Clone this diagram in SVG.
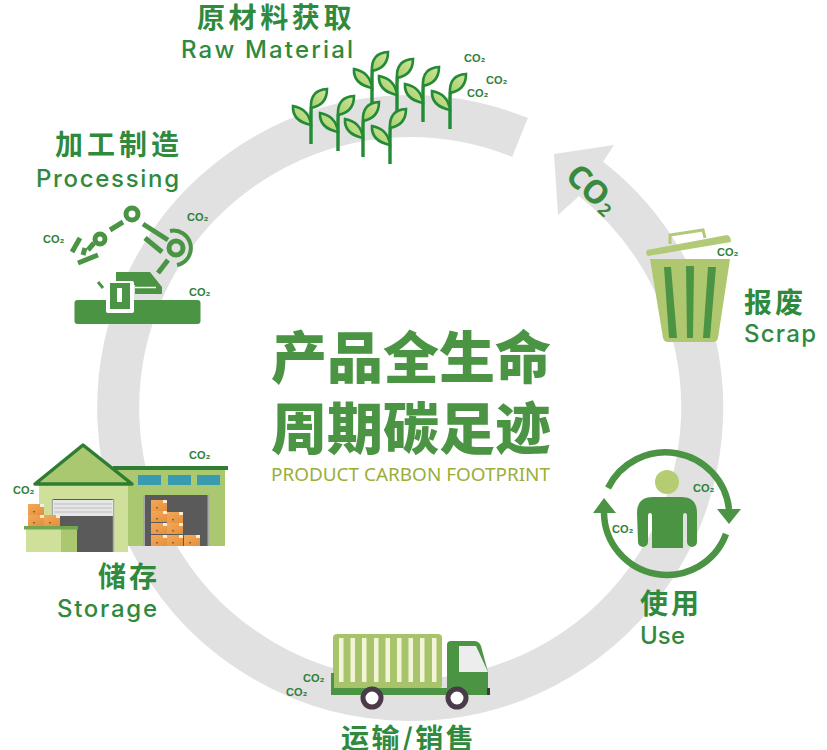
<svg xmlns="http://www.w3.org/2000/svg" xmlns:xlink="http://www.w3.org/1999/xlink" width="827" height="750" viewBox="0 0 827 750">
<style>
.cn{font-family:"Noto Sans CJK SC","Noto Sans",sans-serif;font-weight:700;font-size:28px;fill:#2f8a3e;letter-spacing:3px}
.en{font-family:Inter,"Liberation Sans",sans-serif;font-weight:500;font-size:24px;fill:#2f8a3e;letter-spacing:1px}
.big{font-family:"Noto Sans CJK SC",sans-serif;font-weight:900;font-size:56px;fill:#4a9444}
.co{font-family:"Liberation Sans","Noto Sans CJK SC",sans-serif;font-weight:700;font-size:11px;fill:#2f7f3a}
.g{fill:#4a9444}
.ln{stroke:#4a9444;fill:none;stroke-width:5}
</style>
<defs>
<linearGradient id="leaf" x1="0" y1="1" x2="1" y2="0"><stop offset="0" stop-color="#a4cf6c"/><stop offset="1" stop-color="#d3e39c"/></linearGradient>
<linearGradient id="box" x1="0" y1="0" x2="1" y2="1"><stop offset="0" stop-color="#f2a95a"/><stop offset="1" stop-color="#e58f3c"/></linearGradient>
<g id="sprout">
<path d="M0 0V-31Q0 -36 1 -40" fill="none" stroke="#238a35" stroke-width="3.4"/>
<path d="M0 -36Q-1 -54 16 -55Q16 -39 0 -36Z" fill="url(#leaf)" stroke="#238a35" stroke-width="2.6"/>
<path d="M0 -19Q-2 -35 -18 -38Q-19 -23 0 -19Z" fill="url(#leaf)" stroke="#238a35" stroke-width="2.6"/>
</g>
<g id="crate">
<rect width="16" height="11" fill="url(#box)"/>
<rect x="12" y="0" width="4" height="3" fill="#fbeed8"/>
<rect x="5" y="7" width="2" height="1.4" fill="#9a5a20"/>
</g>
</defs>
<g id="connectors">
<path d="M520 137.500A292 292 0 1 0 590 178" fill="none" stroke="#e1e1e1" stroke-width="42"/>
<path d="M614 145L554 154L558 215L577 198L603 162Z" fill="#e1e1e1"/>
<text transform="translate(564 178) rotate(43)" style="font-size:32px;font-family:'Noto Sans',sans-serif;font-weight:700;fill:#3a8a3e">CO<tspan dx="1" dy="2" style="font-size:18px">2</tspan></text>
</g>
<g id="center">
<text class="big" x="271" y="378">产品全生命</text>
<text class="big" x="271" y="449">周期碳足迹</text>
<text x="271" y="481" style="font-family:'Noto Sans',sans-serif;font-size:18px;fill:#9aae3a" textLength="279" lengthAdjust="spacingAndGlyphs">PRODUCT CARBON FOOTPRINT</text>
</g>
<g id="raw-material">
<use xlink:href="#sprout" href="#sprout" x="372" y="107"/>
<use xlink:href="#sprout" href="#sprout" x="397" y="114"/>
<use xlink:href="#sprout" href="#sprout" x="423" y="122"/>
<use xlink:href="#sprout" href="#sprout" x="450" y="129"/>
<use xlink:href="#sprout" href="#sprout" x="311" y="144"/>
<use xlink:href="#sprout" href="#sprout" x="338" y="151"/>
<use xlink:href="#sprout" href="#sprout" x="363" y="157"/>
<use xlink:href="#sprout" href="#sprout" x="390" y="164"/>
<text class="co" x="464" y="62">CO₂</text>
<text class="co" x="486" y="84">CO₂</text>
<text class="co" x="467" y="97">CO₂</text>
<text class="cn" x="197" y="28" style="letter-spacing:3.6px">原材料获取</text>
<text class="en" x="181" y="58" textLength="173">Raw Material</text>
</g>
<g id="processing">
<rect class="g" x="74.500" y="300" width="126" height="24" rx="3"/>
<path class="g" d="M116 272H150L162 287V294H135V285H116Z"/>
<path d="M135 287.500H156" stroke="#fff" stroke-width="1.500"/>
<rect x="106" y="281" width="28" height="32" rx="2" fill="#fff"/>
<rect class="g" x="110" y="283" width="20" height="26"/>
<rect x="117" y="288" width="5" height="14" fill="#fff"/>
<path class="ln" d="M98 282L103 288" style="stroke-width:3"/>
<circle cx="132" cy="214" r="6" class="ln"/>
<path class="ln" d="M110 230L123 222"/>
<circle cx="100" cy="239" r="5" class="ln"/>
<path class="ln" d="M143 224L168 240M145 238L162 252M168 260L158 273M80 238L72 252M85 248L83 255M78 263L98 255M94 243L88 250"/>
<circle cx="176" cy="248" r="7" class="ln"/>
<path class="ln" d="M170 231A17 17 0 0 1 177 265" style="stroke-width:4"/>
<text class="co" x="187" y="221">CO₂</text>
<text class="co" x="43" y="243">CO₂</text>
<text class="co" x="189" y="296">CO₂</text>
<text class="cn" x="55" y="155" style="letter-spacing:4px">加工制造</text>
<text class="en" x="36" y="187" textLength="144">Processing</text>
</g>
<g id="storage">
<rect x="115" y="470" width="110" height="76" fill="#a9c86f"/>
<rect x="113" y="466" width="115" height="4" fill="#2e7d32"/>
<rect x="138" y="475" width="23" height="10" fill="#3a9bb0"/>
<rect x="168" y="475" width="23" height="10" fill="#3a9bb0"/>
<rect x="197" y="475" width="23" height="10" fill="#3a9bb0"/>
<rect x="143" y="495" width="66" height="51" fill="#5a5a5a"/>
<path d="M144 495V546M208.500 495V546" stroke="#a8a8a8" stroke-width="2"/>
<use xlink:href="#crate" href="#crate" x="151" y="500"/><use xlink:href="#crate" href="#crate" x="151" y="511"/><use xlink:href="#crate" href="#crate" x="151" y="523"/><use xlink:href="#crate" href="#crate" x="151" y="535"/>
<use xlink:href="#crate" href="#crate" x="167" y="512"/><use xlink:href="#crate" href="#crate" x="167" y="523"/><use xlink:href="#crate" href="#crate" x="167" y="535"/>
<use xlink:href="#crate" href="#crate" x="184" y="535"/>
<rect x="39" y="483" width="89" height="69" fill="#cfe09a"/>
<path d="M35 484L83 445L132 484Z" fill="#a9c86f" stroke="#2e7d32" stroke-width="3.500" stroke-linejoin="round"/>
<rect x="52" y="499" width="62" height="53" fill="#5a5a5a"/>
<path d="M52.500 499V552M113.500 499V552" stroke="#a8a8a8" stroke-width="1.500"/>
<rect x="53" y="500" width="60" height="16" fill="#e6e6e6"/>
<path d="M54 504H112M54 508H112M54 512H112" stroke="#bdbdbd" stroke-width="1"/>
<use xlink:href="#crate" href="#crate" x="28" y="504"/><use xlink:href="#crate" href="#crate" x="28" y="515"/><use xlink:href="#crate" href="#crate" x="44" y="515"/>
<rect x="26" y="527" width="35" height="25" fill="#cfe09a"/>
<rect x="61" y="527" width="16" height="25" fill="#a9c86f"/>
<rect x="24" y="526" width="54" height="3.500" fill="#6fa84f"/>
<text class="co" x="13" y="494">CO₂</text>
<text class="co" x="189" y="459">CO₂</text>
<text class="cn" x="98" y="587">储存</text>
<text class="en" x="57" y="617" textLength="101">Storage</text>
</g>
<g id="transport">
<rect x="333" y="634" width="109" height="55" rx="4" fill="#a7c46a"/>
<g fill="#f3f3d8"><rect x="339" y="638" width="4.500" height="44"/><rect x="350.500" y="638" width="4.500" height="44"/><rect x="362" y="638" width="4.500" height="44"/><rect x="374" y="638" width="4.500" height="44"/><rect x="385.500" y="638" width="4.500" height="44"/><rect x="397" y="638" width="4.500" height="44"/><rect x="408.500" y="638" width="4.500" height="44"/><rect x="420" y="638" width="4.500" height="44"/><rect x="432" y="638" width="4.500" height="44"/></g>
<path class="g" d="M331 673H334V688H447V645Q447 641 451 641H474Q479 641 481 646L488 672V695H331Z"/>
<path d="M459 646H476L488 672H459Z" fill="#ededed"/>
<rect x="487" y="688" width="3" height="7" fill="#3b3b3b"/>
<circle cx="372" cy="698" r="9" fill="#fff" stroke="#4a3a4a" stroke-width="5"/>
<circle cx="457" cy="698" r="9" fill="#fff" stroke="#4a3a4a" stroke-width="5"/>
<text class="co" x="303" y="682">CO₂</text>
<text class="co" x="286" y="696">CO₂</text>
<text class="cn" x="341" y="749" style="letter-spacing:2.500px">运输/销售</text>
</g>
<g id="use">
<path d="M608 488A64 64 0 0 1 729 509" fill="none" stroke="#4a9444" stroke-width="6.500"/>
<path class="g" d="M717 509H741L729 524Z"/>
<path d="M726 534A63 63 0 0 1 604 513" fill="none" stroke="#4a9444" stroke-width="6.500"/>
<path class="g" d="M593 513H616L604 498Z"/>
<circle cx="667" cy="482" r="12" fill="#b5cc72"/>
<path class="g" d="M637 513Q637 497 653 497H681Q697 497 697 513V542a5 5 0 0 1 -10 0V516q0 -3 -2 -3q-2 0 -2 3V548H652V516q0 -3 -2 -3q-2 0 -2 3V542a5 5 0 0 1 -10 0Z"/>
<text class="co" x="693" y="492">CO₂</text>
<text class="co" x="612" y="533">CO₂</text>
<text class="cn" x="640" y="614">使用</text>
<text class="en" x="640" y="644" textLength="46">Use</text>
</g>
<g id="scrap">
<path d="M670 244V235L703 230L705 238" fill="none" stroke="#b2c976" stroke-width="3"/>
<path d="M647 250L727 235Q731 236 731 242L648 256Q645 254 647 250Z" fill="#b2c976"/>
<path d="M650 259H730L718 338Q717 342 713 342H668Q664 342 663 338Z" fill="#afc870"/>
<g class="g"><path d="M664 267H671L677 338H669Z"/><path d="M686 266H694L693 338H687Z"/><path d="M708 267H716L710 338H703Z"/></g>
<text class="co" x="717" y="256">CO₂</text>
<text class="cn" x="744" y="313">报废</text>
<text class="en" x="744" y="342" textLength="73">Scrap</text>
</g>
</svg>
